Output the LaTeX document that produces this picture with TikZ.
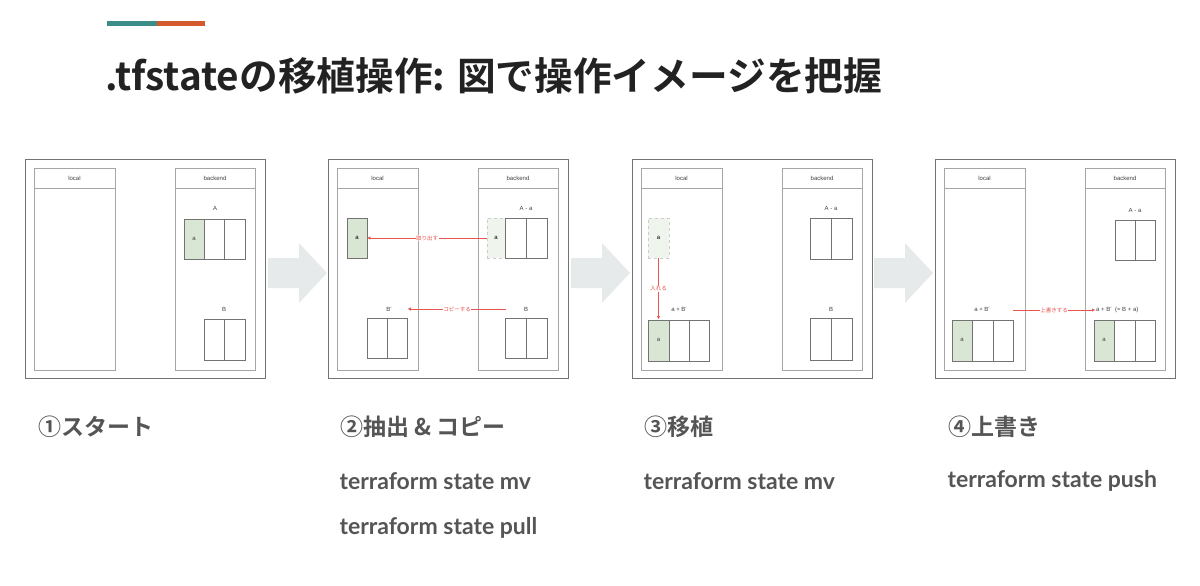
\documentclass[tikz,border=0pt]{standalone}
\usepackage{fontspec}
\setmainfont{Liberation Sans}
\newfontfamily\cjk{Noto Sans CJK JP}
\newfontfamily\cjkb{Noto Sans CJK JP Bold}
\newfontfamily\lato{Lato}
\usetikzlibrary{arrows.meta}
\definecolor{teal}{HTML}{3C8C88}
\definecolor{orng}{HTML}{D35A2A}
\definecolor{ttl}{HTML}{222222}
\definecolor{lbl}{HTML}{555555}
\definecolor{grn}{HTML}{D9E6D4}
\definecolor{lgrn}{HTML}{EFF4EC}
\definecolor{arr}{HTML}{E7EAEB}
\definecolor{redl}{HTML}{E8554E}
\tikzset{
 outer/.style={draw=black!55,line width=0.9pt},
 col/.style={draw=black!35,line width=0.7pt},
 cellst/.style={draw=black!55,line width=0.7pt,fill=white},
 gcell/.style={draw=black!55,line width=0.7pt,fill=grn},
 dcell/.style={draw=black!20,dashed,line width=0.5pt,fill=lgrn},
 tiny/.style={font=\fontsize{6}{7}\selectfont,text=black!75,inner sep=1pt},
 redlab/.style={font=\cjk\fontsize{5.5}{6}\selectfont,text=redl,fill=white,inner sep=0.5pt},
 redarr/.style={draw=redl,line width=0.5pt,-{Triangle[length=3pt,width=3pt]}},
 bigarr/.style={fill=arr},
 steplab/.style={font=\cjkb\fontsize{23}{26}\selectfont,text=lbl,anchor=west},
 cmdlab/.style={font=\lato\bfseries\fontsize{23}{26}\selectfont,text=lbl,anchor=west},
}
\newcommand{\panelbase}[2]{% name, left x
 \begin{scope}[shift={(#2,159)}]
  \draw[outer] (0,0) rectangle (240,219);
  \draw[col] (9,9) rectangle (90,211); \draw[col] (9,29) -- (90,29);
  \draw[col] (150,9) rectangle (230,211); \draw[col] (150,29) -- (230,29);
  \node[tiny] (#1loc) at (49.5,19) {local};
  \node[tiny] (#1bk) at (190,19) {backend};
 \end{scope}}
\begin{document}
\begin{tikzpicture}[x=1pt,y=-1pt]
\useasboundingbox (0,0) rectangle (1200,586);
\fill[teal] (107,21) rectangle (157,26);
\fill[orng] (157,21) rectangle (205,26);
\node[anchor=base west,inner sep=0,font=\cjkb\fontsize{38.7}{44}\selectfont,text=ttl] (title) at (105,91) {.tfstateの移植操作: 図で操作イメージを把握};
% big arrows
\foreach \x in {268,571,874}{
 \fill[bigarr] (\x,258) -- (\x+31,258) -- (\x+31,243) -- (\x+59,273) -- (\x+31,303) -- (\x+31,288) -- (\x,288) -- cycle;}
% panel 1
\panelbase{p1}{25}
\begin{scope}[shift={(25,159)}]
 \node[tiny] (p1A) at (190,49) {A};
 \draw[gcell] (159,60) rectangle (179.3,100); \draw[cellst] (179.3,60) rectangle (199.6,100); \draw[cellst] (199.6,60) rectangle (220,100);
 \node[tiny] (p1a) at (169,80) {a};
 \node[tiny] (p1B) at (199,150) {B};
 \draw[cellst] (179,160) rectangle (199.5,201); \draw[cellst] (199.5,160) rectangle (220,201);
\end{scope}
% panel 2
\panelbase{p2}{328}
\begin{scope}[shift={(328,159)}]
 \node[gcell,minimum width=20pt,minimum height=40pt,inner sep=0,font=\fontsize{6}{7}\selectfont] (p2a) at (29,79) {a};
 \node[dcell,minimum width=18pt,minimum height=40pt,inner sep=0,font=\fontsize{6}{7}\selectfont] (p2da) at (168,79) {a};
 \draw[cellst] (177,59) rectangle (198,99); \draw[cellst] (198,59) rectangle (219,99);
 \node[tiny] (p2Aa) at (198,49) {A - a};
 \node[tiny] (p2Bp) at (61,150) {B'};
 \draw[cellst] (39,159) rectangle (59,199); \draw[cellst] (59,159) rectangle (79,199);
 \node[tiny] (p2B) at (198,150) {B};
 \draw[cellst] (177,159) rectangle (198,199); \draw[cellst] (198,159) rectangle (219,199);
 \coordinate (p2c1) at (178,150); \coordinate (p2c2) at (80,150);
\end{scope}
\draw[redarr] (p2da.west) -- node[redlab] {取り出す} (p2a.east);
\draw[redarr] (p2c1) -- node[redlab] {コピーする} (p2c2);
% panel 3
\panelbase{p3}{632}
\begin{scope}[shift={(632,159)}]
 \node[dcell,minimum width=21pt,minimum height=40pt,inner sep=0,font=\fontsize{6}{7}\selectfont] (p3da) at (26.5,79) {a};
 \coordinate (p3t) at (26.5,160);
 \node[tiny] (p3aB) at (47,150) {a + B'};
 \draw[gcell] (16,161) rectangle (37,202); \draw[cellst] (37,161) rectangle (57,202); \draw[cellst] (57,161) rectangle (77,202);
 \node[tiny] (p3a) at (26.5,181) {a};
 \node[tiny] (p3Aa) at (199,49) {A - a};
 \draw[cellst] (178,59) rectangle (199,100); \draw[cellst] (199,59) rectangle (220,100);
 \node[tiny] (p3B) at (199,150) {B};
 \draw[cellst] (178,159) rectangle (199,201); \draw[cellst] (199,159) rectangle (220,201);
\end{scope}
\draw[redarr] (p3da.south) -- node[redlab] {入れる} (p3t);
% panel 4
\panelbase{p4}{935}
\begin{scope}[shift={(935,159)}]
 \node[tiny] (p4aB) at (47,150) {a + B'};
 \draw[gcell] (17,161) rectangle (37.5,202); \draw[cellst] (37.5,161) rectangle (58,202); \draw[cellst] (58,161) rectangle (78,202);
 \node[tiny] (p4a) at (27,181) {a};
 \node[tiny] (p4Aa) at (200,51) {A - a};
 \draw[cellst] (180,61) rectangle (200,101); \draw[cellst] (200,61) rectangle (220,101);
 \node[tiny,anchor=west] (p4r) at (160,151) {a + B'\ \ (= B + a)};
 \draw[gcell] (159,161) rectangle (179.5,202); \draw[cellst] (179.5,161) rectangle (200,202); \draw[cellst] (200,161) rectangle (220,202);
 \node[tiny] (p4a2) at (169,181) {a};
 \coordinate (p4s) at (78,151);
\end{scope}
\draw[redarr] (p4s) -- node[redlab] {上書きする} (p4r.west);
% labels
\node[steplab] (s1) at (35,427) {①スタート};
\node[steplab] (s2) at (337,427) {②抽出 \& コピー};
\node[steplab] (s3) at (641,427) {③移植};
\node[steplab] (s4) at (945,427) {④上書き};
\node[cmdlab] (c21) at (336,481) {terraform state mv};
\node[cmdlab] (c22) at (336,528) {terraform state pull};
\node[cmdlab] (c3) at (640,481) {terraform state mv};
\node[cmdlab] (c4) at (944,481) {terraform state push};
\end{tikzpicture}
\end{document}
